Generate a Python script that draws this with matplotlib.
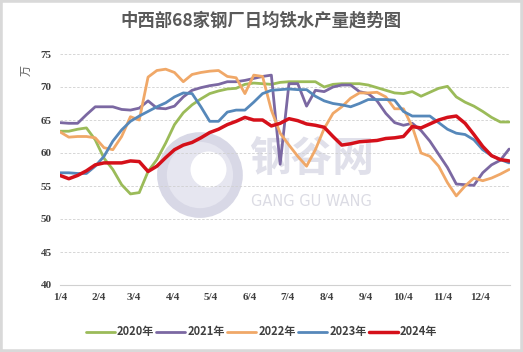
import matplotlib.pyplot as plt
import numpy as np
from matplotlib.patches import Rectangle, Ellipse

plt.rcParams['font.family'] = ['Noto Sans CJK SC', 'DejaVu Sans']

# weekly values, week 0 = 1/4
y2020 = [63.3, 63.3, 63.6, 63.8, 62.0, 59.2, 57.5, 55.2, 53.8, 54.0, 57.2, 59.0, 61.5,
         64.3, 66.1, 67.3, 68.2, 69.0, 69.4, 69.7, 69.8, 70.4, 70.6, 70.5, 70.4, 70.7,
         70.8, 70.8, 70.8, 70.8, 70.0, 70.4, 70.5, 70.5, 70.5, 70.3, 69.9, 69.5, 69.1,
         69.0, 69.3, 68.6, 69.2, 69.8, 70.1, 68.5, 67.7, 67.1, 66.3, 65.4, 64.7, 64.7]
y2021 = [64.6, 64.5, 64.5, 65.8, 67.0, 67.0, 67.0, 66.6, 66.5, 66.8, 67.9, 66.8, 66.7,
         67.1, 68.5, 69.5, 69.9, 70.2, 70.4, 70.8, 70.8, 71.0, 71.3, 71.6, 71.8, 58.3,
         70.5, 70.5, 67.1, 69.5, 69.3, 70.0, 70.3, 70.3, 69.3, 69.0, 67.9, 66.0, 64.6,
         64.2, 64.5, 63.4, 61.8, 59.8, 57.8, 55.3, 55.2, 55.1, 57.0, 58.2, 58.9, 60.6]
y2022 = [63.2, 62.4, 62.5, 62.5, 62.3, 60.8, 60.5, 62.5, 65.5, 65.0, 71.5, 72.5, 72.7,
         72.2, 70.8, 71.9, 72.2, 72.4, 72.5, 71.6, 71.4, 69.0, 71.8, 71.6, 66.5, 63.0,
         61.2, 59.5, 58.0, 60.5, 63.7, 66.0, 67.0, 68.3, 69.1, 69.1, 69.2, 68.5, 66.7,
         66.7, 64.0, 60.0, 59.5, 58.0, 55.5, 53.5, 55.0, 56.2, 55.8, 56.2, 56.8, 57.5]
y2023 = [57.0, 57.0, 56.9, 56.9, 58.0, 59.5, 61.8, 63.5, 64.8, 65.6, 66.3, 67.0, 67.6,
         68.5, 69.1, 69.0, 67.0, 64.8, 64.8, 66.2, 66.5, 66.5, 67.7, 69.0, 69.5, 69.6,
         69.7, 69.6, 69.6, 68.6, 67.9, 67.5, 67.3, 67.0, 67.5, 68.1, 68.1, 68.1, 68.0,
         66.3, 65.6, 65.6, 65.6, 64.6, 63.6, 63.0, 62.8, 62.0, 60.5, 59.6, 59.0, 58.5]
y2024 = [56.6, 56.1, 56.6, 57.3, 58.2, 58.5, 58.5, 58.5, 58.8, 58.7, 57.2, 58.0, 59.3,
         60.5, 61.2, 61.6, 62.3, 63.1, 63.6, 64.3, 64.8, 65.4, 65.0, 65.0, 64.1, 64.5,
         65.2, 64.9, 64.4, 64.2, 63.9, 62.5, 61.2, 61.4, 61.7, 61.8, 61.9, 62.2, 62.3,
         62.5, 64.0, 63.8, 64.4, 65.0, 65.4, 65.6, 64.5, 62.8, 61.0, 59.6, 59.0, 58.8]

labels = ['2020年', '2021年', '2022年', '2023年', '2024年']
colors = ['#9BBB59', '#7B68A2', '#F0A868', '#5688BA', '#D5101A']
month_labels = ['1/4', '2/4', '3/4', '4/4', '5/4', '6/4', '7/4', '8/4', '9/4', '10/4', '11/4', '12/4']
month_days = [0, 31, 59, 90, 120, 151, 181, 212, 243, 273, 304, 334]

fig = plt.figure(figsize=(5.23, 3.52), dpi=100)
fig.patches.append(Rectangle((0, 0), 1, 1, transform=fig.transFigure, fill=False,
                             edgecolor='#D9D9D9', linewidth=4))
ax = fig.add_axes([60 / 523, 1 - 285 / 352, 450 / 523, 231 / 352])

# watermark (logo ring + text)
ax.add_patch(Ellipse((0.311, 0.476), 76 / 450, 76 / 231, transform=ax.transAxes,
                     facecolor='#E6E6F0', edgecolor='#D8D8E6', linewidth=7, zorder=0))
ax.add_patch(Ellipse((0.33, 0.50), 36 / 450, 36 / 231, transform=ax.transAxes,
                     facecolor='white', edgecolor='none', zorder=0))
ax.text(0.558, 0.545, '钢谷网', transform=ax.transAxes, ha='center', va='center',
        fontsize=30, color='#E0E0EA', fontweight='bold', zorder=0)
ax.text(0.558, 0.36, 'GANG GU WANG', transform=ax.transAxes, ha='center', va='center',
        fontsize=10.5, color='#DCDCE4', family='DejaVu Sans', zorder=0)

weeks = np.arange(len(y2020))
series = [y2020, y2021, y2022, y2023, y2024]
for s, lab, c in zip(series, labels, colors):
    lw = 2.5 if lab == '2024年' else 2.0
    ax.plot(weeks, s, color=c, lw=lw, label=lab, solid_capstyle='round', zorder=3)

ax.set_xlim(0, 51.1)
ax.set_ylim(40, 75)
ax.set_yticks(np.arange(40, 76, 5))
ax.set_xticks(np.array(month_days) / 7)
ax.set_xticklabels(month_labels)
for t in ax.get_xticklabels() + ax.get_yticklabels():
    t.set_family('Liberation Serif')
    t.set_fontweight('bold')
    t.set_fontsize(8)
    t.set_color('#404040')
ax.tick_params(length=0, pad=6)
ax.grid(axis='y', color='#D0D0D0', linestyle=(0, (3, 2)), linewidth=0.6)
for sp in ['top', 'right', 'left']:
    ax.spines[sp].set_visible(False)
ax.spines['bottom'].set_color('#D0D0D0')

fig.text(27 / 523, 1 - 70 / 352, '万', rotation=90, ha='center', va='center',
         fontsize=8, color='#595959')
fig.text(0.5, 1 - 20 / 352, '中西部68家钢厂日均铁水产量趋势图', ha='center', va='center',
         fontsize=12.5, fontweight='bold', color='#595959')

leg = fig.legend(loc='center', bbox_to_anchor=(0.5, 1 - 332 / 352), ncol=5, frameon=False,
                 handlelength=2.6, handletextpad=0.2, columnspacing=0.2,
                 prop={'size': 8, 'weight': 'bold'})
for t in leg.get_texts():
    t.set_color('#404040')

fig.savefig('out.png', dpi=100)
